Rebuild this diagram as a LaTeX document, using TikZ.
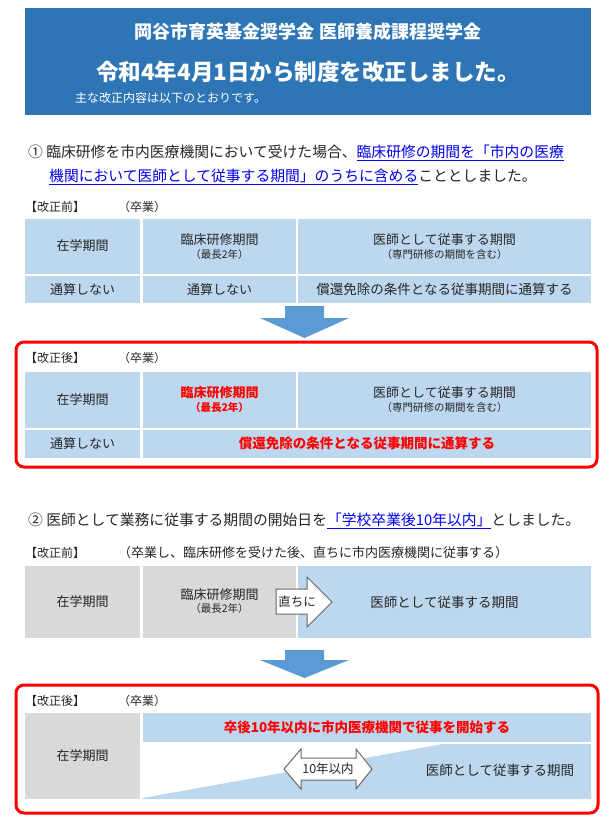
\documentclass[tikz,border=0pt]{standalone}
\usepackage{fontspec}
\setmainfont{Noto Sans CJK JP}
\definecolor{hdr}{HTML}{2E75B6}
\definecolor{cellb}{HTML}{BDD7EE}
\definecolor{cellg}{HTML}{D9D9D9}
\definecolor{arr}{HTML}{5B9BD5}
\definecolor{lnk}{HTML}{0000EE}
\newcommand{\fs}[1]{\fontsize{#1}{#1}\selectfont}
\newcommand{\lk}[1]{\textcolor{lnk}{\underline{#1}}}
\tikzset{
 txt/.style={inner sep=0pt,anchor=west,text=black!85},
 ctr/.style={inner sep=0pt,align=center,text=black!85},
 bcell/.style={fill=cellb,draw=none},
 gcell/.style={fill=cellg,draw=none},
 redbox/.style={draw=red,line width=3pt,rounded corners=8pt},
 downarr/.style={fill=arr,draw=none},
}
\begin{document}
\begin{tikzpicture}[x=1pt,y=-1pt]
\useasboundingbox (0,0) rectangle (609,823);
\fill[white] (0,0) rectangle (609,823);
% header
\fill[hdr] (25,8) rectangle (591,115);
\node[ctr,text=white,font=\bfseries\fs{18}] (t1) at (308,32) {岡谷市育英基金奨学金 医師養成課程奨学金};
\node[ctr,text=white,font=\bfseries\fs{22.5}] (t2) at (308,72) {令和4年4月1日から制度を改正しました。};
\node[txt,text=white,font=\fs{12}] (t3) at (75,98) {主な改正内容は以下のとおりです。};
% section 1
\node[txt,font=\fs{14.8}] (s1a) at (28,153) {① 臨床研修を市内医療機関において受けた場合、\lk{臨床研修の期間を「市内の医療}};
\node[txt,font=\fs{14.8}] (s1b) at (49,177) {\lk{機関において医師として従事する期間」のうちに含める}こととしました。};
\node[txt,font=\fs{12}] (b1) at (25,207) {【改正前】};
\node[txt,font=\fs{12}] (b1s) at (118,207) {（卒業）};
\fill[bcell] (25,219) rectangle (140,274);
\fill[bcell] (143,219) rectangle (296,274);
\fill[bcell] (298,219) rectangle (591,274);
\fill[bcell] (25,276) rectangle (140,303);
\fill[bcell] (143,276) rectangle (296,303);
\fill[bcell] (298,276) rectangle (591,303);
\node[ctr,font=\fs{13}] (c11) at (82.5,246) {在学期間};
\node[ctr,font=\fs{13}] (c12) at (219.5,240) {臨床研修期間};
\node[ctr,font=\fs{10.5}] (c12s) at (219.5,255) {（最長2年）};
\node[ctr,font=\fs{13}] (c13) at (444.5,240) {医師として従事する期間};
\node[ctr,font=\fs{10.5}] (c13s) at (444.5,255) {（専門研修の期間を含む）};
\node[ctr,font=\fs{13}] (c21) at (82.5,290) {通算しない};
\node[ctr,font=\fs{13}] (c22) at (219.5,290) {通算しない};
\node[ctr,font=\fs{13.5}] (c23) at (444.5,289) {償還免除の条件となる従事期間に通算する};
% down arrow 1
\fill[downarr] (285,306) -- (324,306) -- (324,318) -- (349,318) -- (304.5,338) -- (260,318) -- (285,318) -- cycle;
% after 1
\draw[redbox] (16,342) rectangle (597,467);
\node[txt,font=\fs{12}] (a1) at (25,358) {【改正後】};
\node[txt,font=\fs{12}] (a1s) at (118,358) {（卒業）};
\fill[bcell] (25,372) rectangle (140,428);
\fill[bcell] (143,372) rectangle (296,428);
\fill[bcell] (298,372) rectangle (591,428);
\fill[bcell] (25,430) rectangle (140,458);
\fill[bcell] (143,430) rectangle (591,458);
\node[ctr,font=\fs{13}] (d11) at (82.5,400) {在学期間};
\node[ctr,font=\bfseries\fs{13},text=red] (d12) at (219.5,393) {臨床研修期間};
\node[ctr,font=\bfseries\fs{10.5},text=red] (d12s) at (219.5,408) {（最長2年）};
\node[ctr,font=\fs{13}] (d13) at (444.5,393) {医師として従事する期間};
\node[ctr,font=\fs{10.5}] (d13s) at (444.5,408) {（専門研修の期間を含む）};
\node[ctr,font=\fs{13}] (d21) at (82.5,444) {通算しない};
\node[ctr,font=\bfseries\fs{13.5},text=red] (d22) at (367,443) {償還免除の条件となる従事期間に通算する};
% section 2
\node[txt,font=\fs{14.8}] (s2) at (28,521) {② 医師として業務に従事する期間の開始日を\lk{「学校卒業後10年以内」}としました。};
\node[txt,font=\fs{12}] (b2) at (25,553) {【改正前】};
\node[txt,font=\fs{13}] (b2s) at (118,553) {（卒業し、臨床研修を受けた後、直ちに市内医療機関に従事する）};
\fill[gcell] (25,566) rectangle (140,638);
\fill[gcell] (143,566) rectangle (296,638);
\fill[bcell] (298,566) rectangle (591,638);
\node[ctr,font=\fs{13}] (e1) at (82.5,602) {在学期間};
\node[ctr,font=\fs{13}] (e2) at (219.5,595) {臨床研修期間};
\node[ctr,font=\fs{10.5}] (e2s) at (219.5,609) {（最長2年）};
\node[ctr,font=\fs{13.5}] (e3) at (444.5,602) {医師として従事する期間};
\draw[fill=white,draw=black!60,line width=1pt] (276,589) -- (307,589) -- (307,577) -- (332,602) -- (307,627) -- (307,614) -- (276,614) -- cycle;
\node[ctr,font=\fs{12.5}] (e4) at (297,601.5) {直ちに};
% down arrow 2
\fill[downarr] (285,650) -- (324,650) -- (324,660) -- (349,660) -- (304.5,678) -- (260,660) -- (285,660) -- cycle;
% after 2
\draw[redbox] (16,685) rectangle (598,813);
\node[txt,font=\fs{12}] (a2) at (25,701) {【改正後】};
\node[txt,font=\fs{12}] (a2s) at (118,701) {（卒業）};
\fill[gcell] (25,713) rectangle (140,799);
\fill[bcell] (143,713) rectangle (591,742);
\fill[bcell] (143,798) -- (443,744) -- (591,744) -- (591,799) -- (143,799) -- cycle;
\node[ctr,font=\fs{13}] (f1) at (82.5,756) {在学期間};
\node[ctr,font=\bfseries\fs{13.5},text=red] (f2) at (367,727) {卒後10年以内に市内医療機関で従事を開始する};
\node[ctr,font=\fs{13.5}] (f3) at (500,770) {医師として従事する期間};
\draw[fill=white,draw=black!60,line width=1pt] (284,769) -- (301,749) -- (301,758) -- (356,758) -- (356,749) -- (372,769) -- (356,789) -- (356,780) -- (301,780) -- (301,789) -- cycle;
\node[ctr,font=\fs{12.5}] (f4) at (328,769) {10年以内};
\end{tikzpicture}
\end{document}
